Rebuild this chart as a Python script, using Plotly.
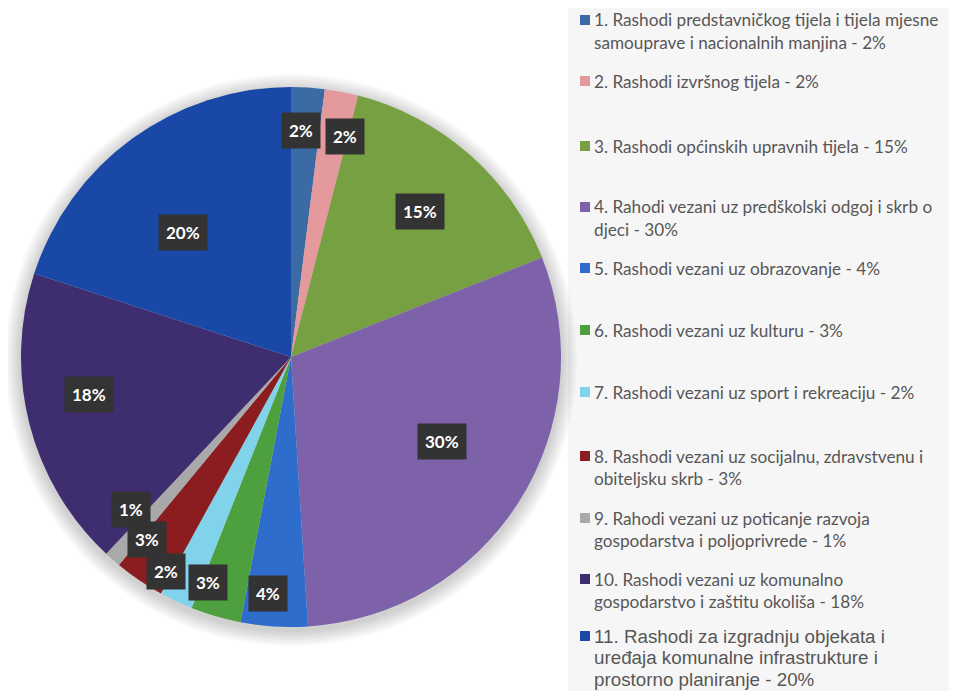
import math
import plotly.graph_objects as go

# ---------------- data ----------------
categories = [
    "1. Rashodi predstavničkog tijela i tijela mjesne<br>samouprave i nacionalnih manjina",
    "2. Rashodi izvršnog tijela",
    "3. Rashodi općinskih upravnih tijela",
    "4. Rahodi vezani uz predškolski odgoj i skrb o<br>djeci",
    "5. Rashodi vezani uz obrazovanje",
    "6. Rashodi vezani uz kulturu",
    "7. Rashodi vezani uz sport i rekreaciju",
    "8. Rashodi vezani uz socijalnu, zdravstvenu i<br>obiteljsku skrb",
    "9. Rahodi vezani uz poticanje razvoja<br>gospodarstva i poljoprivrede",
    "10. Rashodi vezani uz komunalno<br>gospodarstvo i zaštitu okoliša",
    "11. Rashodi za izgradnju objekata i<br>uređaja komunalne infrastrukture i<br>prostorno planiranje",
]
values = [2, 2, 15, 30, 4, 3, 2, 3, 1, 18, 20]

# ---------------- styles ----------------
colors = ["#3c6aa4", "#e49a9d", "#76a041", "#7d62aa", "#2e6dcb", "#4ea03f",
          "#80d3ea", "#8b1c1f", "#a9a9a9", "#3f2e6f", "#1948a7"]
W, H = 957, 691
OFF = 8  # page body margin offset
CX, CY, R = 291 - OFF, 357 - OFF, 270
label_r = [0.84, 0.84, 0.72, 0.64, 0.88, 0.89, 0.92, 0.86, 0.82, 0.76, 0.61]
label_dang = [-1, 3, 0, -3, 2, 4, 5, 4, 5, 4, -5]
legend_first_y = [20, 81, 146, 207, 268, 330, 392, 456, 518, 579, 636]
legend_line_h = [22.5] * 10 + [21.5]
legend_font = ["Lato"] * 10 + ["Liberation Sans"]
legend_size = [17.2] * 10 + [18.8]

fig = go.Figure()
fig.add_trace(go.Pie(
    values=values,
    labels=[c.replace("<br>", " ") for c in categories],
    marker=dict(colors=colors, line=dict(width=0)),
    sort=False, direction="clockwise", rotation=0,
    textinfo="none", hoverinfo="none", showlegend=False,
    domain=dict(x=[(CX - R) / W, (CX + R) / W],
                y=[1 - (CY + R) / H, 1 - (CY - R) / H]),
))

shapes = []
# legend background
shapes.append(dict(type="rect", xref="paper", yref="paper", x0=(568 - OFF) / W, x1=1,
                   y0=0, y1=1.02, fillcolor="#f6f6f6", line=dict(width=0), layer="below"))
# soft shadow around pie
for k in range(1, 9):
    rr = R + 2 * k
    cy = CY + 3
    shapes.append(dict(type="circle", xref="paper", yref="paper",
                       x0=(CX - rr) / W, x1=(CX + rr) / W,
                       y0=1 - (cy + rr) / H, y1=1 - (cy - rr) / H,
                       fillcolor="rgba(0,0,0,0.022)", line=dict(width=0), layer="below"))

annotations = []
total = sum(values)
cum = 0
for i, v in enumerate(values):
    mid = (cum + v / 2) / total * 360 + label_dang[i]
    cum += v
    th = math.radians(mid)
    px = CX + label_r[i] * R * math.sin(th)
    py = CY - label_r[i] * R * math.cos(th)
    annotations.append(dict(
        x=px / W, y=1 - py / H, xref="paper", yref="paper",
        text=f"<b>{v}%</b>", showarrow=False,
        font=dict(family="Lato", size=17, color="white"),
        bgcolor="#333333", borderpad=7, xanchor="center", yanchor="middle"))

# manual legend
for i, (cat, v) in enumerate(zip(categories, values)):
    lines = f"{cat} - {v}%".split("<br>")
    y0 = legend_first_y[i] - OFF
    shapes.append(dict(type="rect", xref="paper", yref="paper",
                       x0=(580 - OFF) / W, x1=(590 - OFF) / W,
                       y0=1 - (y0 + 5) / H, y1=1 - (y0 - 5) / H,
                       fillcolor=colors[i], line=dict(width=0)))
    for j, ln in enumerate(lines):
        yy = y0 + j * legend_line_h[i]
        annotations.append(dict(
            x=(592 - OFF) / W, y=1 - yy / H, xref="paper", yref="paper",
            text=ln, showarrow=False, xanchor="left", yanchor="middle",
            font=dict(family=legend_font[i], size=legend_size[i], color="#575757")))

fig.update_layout(
    width=W, height=H, margin=dict(l=0, r=0, t=0, b=0),
    paper_bgcolor="white", plot_bgcolor="white",
    shapes=shapes, annotations=annotations, showlegend=False,
)
fig.write_html("out.html", config={"displayModeBar": False})
